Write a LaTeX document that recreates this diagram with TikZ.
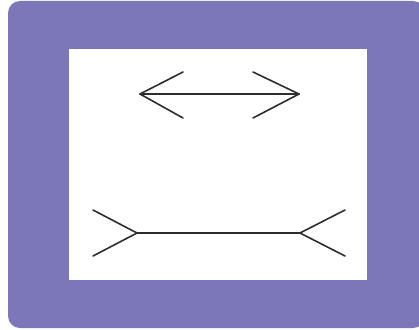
\documentclass[tikz,border=0pt]{standalone}
\definecolor{framepurple}{RGB}{123,119,184}
\definecolor{inkgray}{RGB}{45,45,45}
\tikzset{stroke/.style={draw=inkgray,line width=1.6pt,line cap=round,line join=round}}
\begin{document}
\begin{tikzpicture}[x=1pt,y=-1pt]
\useasboundingbox (0,0) rectangle (419,329);
\fill[white] (0,0) rectangle (419,329);
\fill[framepurple,rounded corners=12pt] (8,1) rectangle (425,328);
\fill[white] (69,49) rectangle (367,280);
% upper: arrowheads outward
\coordinate (aL) at (140,94);
\coordinate (aR) at (299,94);
\draw[stroke] (aL) -- (aR);
\draw[stroke] (183,72) -- (aL) -- (183,118);
\draw[stroke] (253,72) -- (aR) -- (253,118);
% lower: fins inward
\coordinate (bL) at (137,233);
\coordinate (bR) at (300,233);
\draw[stroke] (bL) -- (bR);
\draw[stroke] (93,210) -- (bL) -- (93,256);
\draw[stroke] (345,210) -- (bR) -- (345,256);
\end{tikzpicture}
\end{document}
